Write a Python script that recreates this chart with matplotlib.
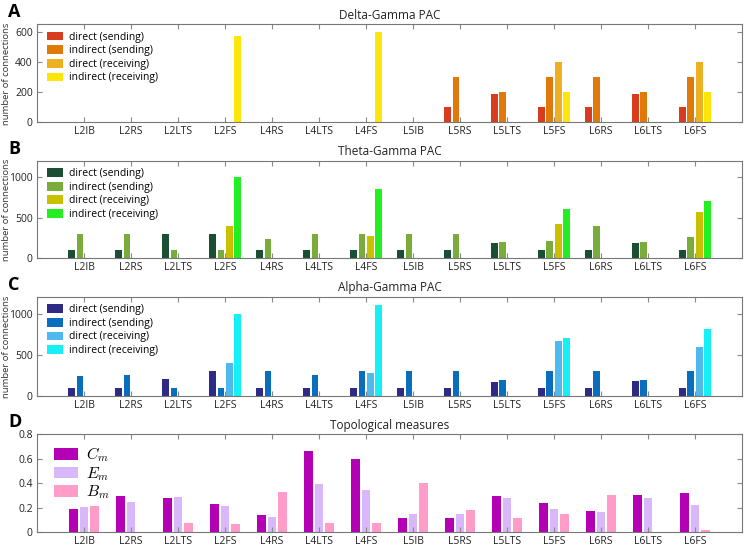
import numpy as np
import matplotlib
matplotlib.use('Agg')
import matplotlib.pyplot as plt
from matplotlib.ticker import FuncFormatter

plt.rcParams['font.family'] = ['Open Sans', 'DejaVu Sans']
plt.rcParams['mathtext.fontset'] = 'cm'

cells = ['L2IB', 'L2RS', 'L2LTS', 'L2FS', 'L4RS', 'L4LTS', 'L4FS',
         'L5IB', 'L5RS', 'L5LTS', 'L5FS', 'L6RS', 'L6LTS', 'L6FS']
pac_labels = ['direct (sending)', 'indirect (sending)', 'direct (receiving)', 'indirect (receiving)']

# Delta-Gamma PAC
delta_direct_send = [0, 0, 0, 0, 0, 0, 0, 0, 100, 190, 100, 100, 190, 100]
delta_indirect_send = [0, 0, 0, 0, 0, 0, 0, 0, 300, 200, 300, 300, 200, 300]
delta_direct_recv = [0, 0, 0, 0, 0, 0, 0, 0, 0, 0, 400, 0, 0, 400]
delta_indirect_recv = [0, 0, 0, 570, 0, 0, 600, 0, 0, 0, 200, 0, 0, 200]

# Theta-Gamma PAC
theta_direct_send = [100, 100, 300, 300, 100, 100, 100, 100, 100, 180, 100, 100, 180, 100]
theta_indirect_send = [300, 300, 100, 100, 235, 300, 300, 300, 300, 195, 210, 390, 195, 265]
theta_direct_recv = [0, 0, 0, 400, 0, 0, 270, 0, 0, 0, 425, 0, 0, 570]
theta_indirect_recv = [0, 0, 0, 1000, 0, 0, 850, 0, 0, 0, 610, 0, 0, 700]

# Alpha-Gamma PAC
alpha_direct_send = [100, 100, 210, 300, 100, 100, 100, 100, 100, 175, 100, 100, 180, 100]
alpha_indirect_send = [245, 260, 100, 100, 300, 260, 300, 300, 300, 200, 300, 300, 200, 300]
alpha_direct_recv = [0, 0, 0, 400, 0, 0, 280, 0, 0, 0, 665, 0, 0, 600]
alpha_indirect_recv = [0, 0, 0, 1000, 0, 0, 1100, 0, 0, 0, 705, 0, 0, 810]

# Topological measures
C_m = [0.185, 0.293, 0.282, 0.23, 0.138, 0.663, 0.594, 0.115, 0.115, 0.293, 0.241, 0.173, 0.304, 0.318]
E_m = [0.205, 0.249, 0.285, 0.214, 0.126, 0.394, 0.345, 0.145, 0.148, 0.274, 0.192, 0.164, 0.279, 0.219]
B_m = [0.215, 0.0, 0.071, 0.063, 0.323, 0.077, 0.074, 0.40, 0.18, 0.118, 0.148, 0.304, 0.0, 0.014]

x = np.arange(1, len(cells) + 1)

fig = plt.figure(figsize=(7.48, 5.5), dpi=100)


def style_axes(ax, title, letter, ylim, yticks, ylabel):
    ax.set_xlim(0, 15)
    ax.set_ylim(*ylim)
    ax.set_xticks(x)
    ax.set_xticklabels(cells, fontsize=7.5, color='#222222')
    ax.set_yticks(yticks)
    ax.yaxis.set_major_formatter(FuncFormatter(lambda v, p: f'{v:g}'))
    ax.tick_params(direction='in', top=True, right=True, length=3.5,
                   color='#888888', labelsize=7.5, pad=3, labelcolor='#222222')
    for s in ax.spines.values():
        s.set_color('#777777')
        s.set_linewidth(0.8)
    ax.set_title(title, fontsize=8.5, pad=4, color='#222222')
    if ylabel:
        ax.set_ylabel(ylabel, fontsize=6.8, color='#333333')
        ax.yaxis.set_label_coords(-0.037, 0.5)
    fig.text(0.011, ax.get_position().y1 + 0.022, letter, fontsize=13,
             fontweight='bold', va='center', ha='left')


def pac_panel(rect, series, colors):
    ax = fig.add_axes(rect)
    offsets = [-0.27, -0.09, 0.09, 0.27]
    for vals, off, c, lab in zip(series, offsets, colors, pac_labels):
        ax.bar(x + off, vals, width=0.14, color=c, label=lab, linewidth=0)
    return ax


axA = pac_panel([0.0495, 0.7776, 0.9425, 0.178],
                [delta_direct_send, delta_indirect_send, delta_direct_recv, delta_indirect_recv],
                ['#D93B1E', '#DF7A0A', '#EDB020', '#FFE60A'])
style_axes(axA, 'Delta-Gamma PAC', 'A', (0, 650), [0, 200, 400, 600], 'number of connections')

axB = pac_panel([0.0495, 0.5309, 0.9425, 0.1764],
                [theta_direct_send, theta_indirect_send, theta_direct_recv, theta_indirect_recv],
                ['#1B4F33', '#79AC3A', '#C8C000', '#22EE22'])
style_axes(axB, 'Theta-Gamma PAC', 'B', (0, 1200), [0, 500, 1000], 'number of connections')

axC = pac_panel([0.0495, 0.28, 0.9425, 0.18],
                [alpha_direct_send, alpha_indirect_send, alpha_direct_recv, alpha_indirect_recv],
                ['#2E2A85', '#0A6EBE', '#4EB9EC', '#14F0F5'])
style_axes(axC, 'Alpha-Gamma PAC', 'C', (0, 1200), [0, 500, 1000], 'number of connections')

for ax in (axA, axB, axC):
    ax.legend(loc='upper left', frameon=False, fontsize=7.5, handlelength=1.6,
              handleheight=0.9, labelspacing=0.25, handletextpad=0.5,
              borderaxespad=0.2, bbox_to_anchor=(0.005, 0.99))

axD = fig.add_axes([0.0495, 0.0327, 0.9425, 0.178])
for vals, off, c, lab in zip([C_m, E_m, B_m], [-0.22, 0.0, 0.22],
                             ['#B400B4', '#D8B8FA', '#FF9CC8'],
                             ['$C_m$', '$E_m$', '$B_m$']):
    axD.bar(x + off, vals, width=0.185, color=c, label=lab, linewidth=0)
style_axes(axD, 'Topological measures', 'D', (0, 0.8), [0, 0.2, 0.4, 0.6, 0.8], None)
axD.legend(loc='upper left', frameon=False, fontsize=11.5, handlelength=1.5,
           handleheight=0.75, labelspacing=0.05, handletextpad=0.5,
           borderaxespad=0.2, bbox_to_anchor=(0.01, 0.98))

fig.savefig('out.png', dpi=100)
